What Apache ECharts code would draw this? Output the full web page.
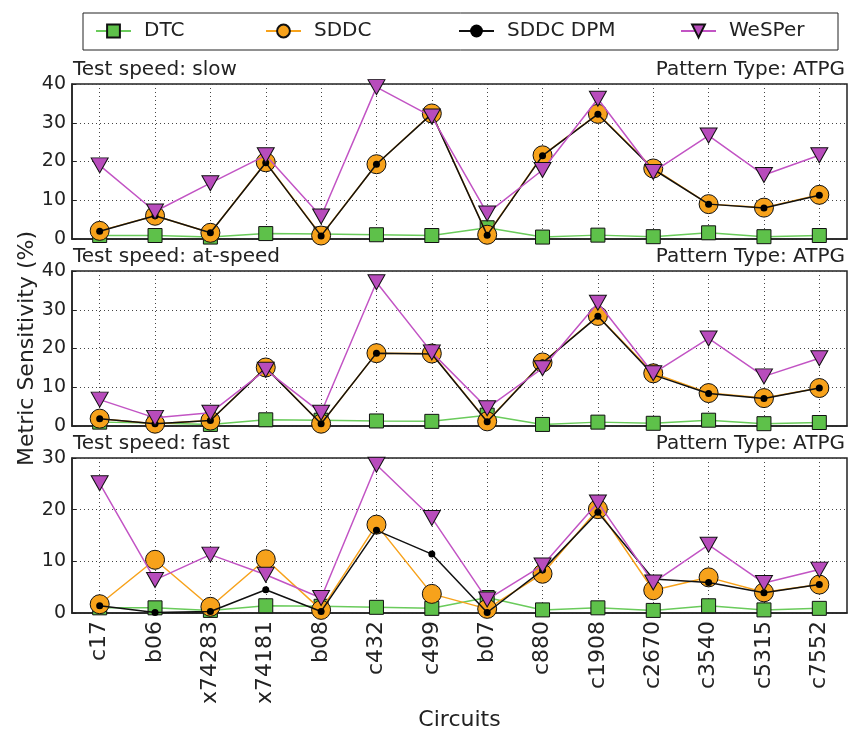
<!DOCTYPE html>
<html><head><meta charset="utf-8">
<script src="https://cdn.jsdelivr.net/npm/echarts@6/dist/echarts.min.js"></script>
<style>html,body{margin:0;padding:0;background:#fff}#c{width:857px;height:733px}</style>
</head><body><div id="c"></div><script>
const categories = ['c17','b06','x74283','x74181','b08','c432','c499','b07','c880','c1908','c2670','c3540','c5315','c7552'];
const seriesNames = ['DTC','SDDC','SDDC DPM','WeSPer'];
const panelTitles = ['Test speed: slow','Test speed: at-speed','Test speed: fast'];
const patternTitle = 'Pattern Type: ATPG';
const yMaxes = [40, 40, 30];
const yTicks = [[0,10,20,30,40],[0,10,20,30,40],[0,10,20,30]];

const dtcSlow    = [0.9,0.9,0.5,1.4,1.3,1.1,0.9,2.9,0.5,1.0,0.6,1.6,0.6,0.9];
const sddcSlow   = [2.1,6.0,1.6,19.8,0.9,19.3,32.4,1.1,21.6,32.3,18.2,9.0,8.1,11.4];
const dpmSlow    = [2.0,6.0,1.6,19.7,0.8,19.3,32.3,1.0,21.5,32.2,18.0,9.0,8.0,11.3];
const wesperSlow = [19.0,7.1,14.4,21.6,5.8,39.2,31.6,6.6,17.8,36.2,17.3,26.7,16.5,21.6];

const dtcAt      = [1.0,0.8,0.4,1.6,1.5,1.3,1.2,2.8,0.4,1.0,0.7,1.5,0.6,0.9];
const sddcAt     = [1.9,0.6,1.4,15.1,0.6,18.8,18.7,1.2,16.4,28.4,13.6,8.5,7.2,9.8];
const dpmAt      = [1.9,0.6,1.4,15.0,0.6,18.8,18.6,1.1,16.3,28.3,13.2,8.4,7.1,9.8];
const wesperAt   = [6.8,2.1,3.4,14.5,3.4,37.1,19.0,4.6,14.9,31.8,13.6,22.6,12.8,17.5];

const dtcFast    = [1.0,1.0,0.5,1.4,1.3,1.1,0.9,3.0,0.6,1.0,0.5,1.4,0.6,0.9];
const sddcFast   = [1.7,10.3,1.2,10.4,0.6,17.1,3.7,0.8,7.6,20.1,4.4,6.9,4.0,5.5];
const dpmFast    = [1.4,0.1,0.3,4.5,0.3,16.0,11.4,0.1,8.3,19.5,6.6,5.9,3.9,5.5];
const wesperFast = [25.1,6.4,11.3,7.4,2.9,28.7,18.4,2.6,9.2,21.4,5.9,13.2,5.8,8.4];

const panels = [
  [dtcSlow, sddcSlow, dpmSlow, wesperSlow],
  [dtcAt, sddcAt, dpmAt, wesperAt],
  [dtcFast, sddcFast, dpmFast, wesperFast]
];

const FONT = 'DejaVu Sans';
const gridTops = [84, 271, 458];
const GRID_H = 155;

const styles = [
  {symbol:'rect', size:14, fill:'#5ec14a', line:'#6acb5b', z:2, rotate:0},
  {symbol:'circle', size:19, fill:'#f7a21b', line:'#f7a21b', z:3, rotate:0},
  {symbol:'circle', size:7, fill:'#000', line:'#111', z:4, rotate:0},
  {symbol:'triangle', size:[17,15], fill:'#b84cbc', line:'#c254c4', z:5, rotate:180}
];

const grids = [], xAxes = [], yAxes = [], series = [];
panels.forEach((arrs, p) => {
  grids.push({left:72, right:10, top:gridTops[p], height:GRID_H, show:true, borderColor:'#222', borderWidth:1.5, backgroundColor:'transparent'});
  xAxes.push({
    type:'category', gridIndex:p, data:categories, boundaryGap:true,
    axisLine:{show:true, lineStyle:{color:'#222', width:1.5}},
    axisTick:{show:true, inside:true, alignWithLabel:true, length:4, lineStyle:{color:'#222'}},
    splitLine:{show:true, alignWithLabel:true, lineStyle:{color:'#444', width:1, type:[1,3]}},
    axisLabel:{show:p===2, rotate:90, fontFamily:FONT, fontSize:22, color:'#222', margin:8, interval:0},
    name: p===2 ? 'Circuits' : '', nameLocation:'middle', nameGap:96, nameMoveOverlap:false,
    nameTextStyle:{fontFamily:FONT, fontSize:22, color:'#222'}
  });
  yAxes.push({
    type:'value', gridIndex:p, min:0, max:yMaxes[p], interval:10,
    axisLine:{show:true, lineStyle:{color:'#222', width:1.5}},
    axisTick:{show:true, inside:true, length:4, lineStyle:{color:'#222'}},
    splitLine:{show:true, lineStyle:{color:'#444', width:1, type:[1,3]}},
    axisLabel:{fontFamily:FONT, fontSize:19, color:'#222', margin:6,
      formatter: v => yTicks[p].includes(v) ? String(v) : ''},
    name: p===1 ? 'Metric Sensitivity (%)' : '', nameLocation:'middle', nameGap:34, nameMoveOverlap:false,
    nameTextStyle:{fontFamily:FONT, fontSize:22, color:'#222'}
  });
  arrs.forEach((vals, i) => {
    const s = styles[i];
    series.push({
      name: seriesNames[i], type:'line', xAxisIndex:p, yAxisIndex:p, data:vals,
      symbol:s.symbol, symbolSize:s.size, symbolRotate:s.rotate, z:s.z,
      showAllSymbol:true, animation:false,
      lineStyle:{color:s.line, width:1.5},
      itemStyle:{color:s.fill, borderColor:'#111', borderWidth: i===2 ? 0 : 1}
    });
  });
});

const titles = [];
panelTitles.forEach((t, p) => {
  titles.push({text:t, left:73, top:gridTops[p]-24, padding:0, textStyle:{fontFamily:FONT, fontSize:20, fontWeight:'normal', color:'#222'}});
  titles.push({text:patternTitle, right:12, top:gridTops[p]-24, padding:0, textStyle:{fontFamily:FONT, fontSize:20, fontWeight:'normal', color:'#222'}});
});

const legendLefts = [95, 265, 458, 680];
const legends = seriesNames.map((n, i) => ({
  data:[n], left:legendLefts[i], top:21, padding:0, itemWidth:35, itemHeight:16, itemGap:10,
  textStyle:{fontFamily:FONT, fontSize:20, color:'#222', padding:[0,0,0,8]}
}));

const chart = echarts.init(document.getElementById('c'), null, {renderer:'canvas'});
chart.setOption({
  backgroundColor:'#fff',
  animation:false,
  title:titles,
  legend:legends,
  grid:grids, xAxis:xAxes, yAxis:yAxes, series:series,
  graphic:[{type:'rect', shape:{x:83, y:13, width:755, height:37}, style:{fill:'none', stroke:'#222', lineWidth:1}, silent:true}]
});
</script></body></html>
